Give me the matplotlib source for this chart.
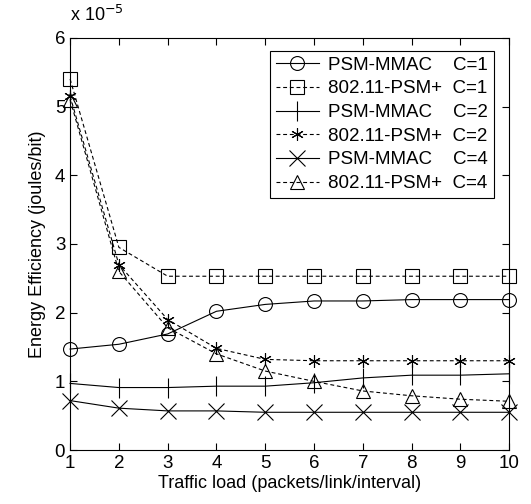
import matplotlib.pyplot as plt

plt.rcParams['font.family'] = ['Liberation Sans', 'DejaVu Sans']

load = [1, 2, 3, 4, 5, 6, 7, 8, 9, 10]
# energy efficiency, in units of 1e-5 joules/bit
mmac_c1 = [1.47, 1.54, 1.69, 2.02, 2.12, 2.17, 2.17, 2.19, 2.19, 2.19]
psm_c1 = [5.40, 2.95, 2.53, 2.53, 2.53, 2.53, 2.53, 2.53, 2.53, 2.53]
mmac_c2 = [0.97, 0.91, 0.91, 0.93, 0.93, 0.98, 1.05, 1.09, 1.09, 1.11]
psm_c2 = [5.15, 2.70, 1.90, 1.48, 1.32, 1.30, 1.30, 1.30, 1.30, 1.30]
mmac_c4 = [0.72, 0.61, 0.57, 0.57, 0.55, 0.55, 0.55, 0.55, 0.55, 0.55]
psm_c4 = [5.10, 2.60, 1.78, 1.40, 1.15, 1.00, 0.86, 0.79, 0.74, 0.71]

labels = ['PSM-MMAC    C=1', '802.11-PSM+  C=1', 'PSM-MMAC    C=2',
          '802.11-PSM+  C=2', 'PSM-MMAC    C=4', '802.11-PSM+  C=4']

fig = plt.figure(figsize=(5.31, 5.04), dpi=100)
ax = fig.add_axes([0.132, 0.107, 0.827, 0.818])

kw = dict(color='black', linewidth=0.8, markersize=10, markerfacecolor='none',
          markeredgewidth=0.8, clip_on=False)
dash = (0, (3.5, 2.5))
ax.plot(load, mmac_c1, '-', marker='o', label=labels[0], **kw)
ax.plot(load, psm_c1, linestyle=dash, marker='s', label=labels[1], **kw)
ax.plot(load, mmac_c2, '-', marker='|', label=labels[2], **dict(kw, markersize=14))
ax.plot(load, psm_c2, linestyle=dash, marker=(6, 2, 0), label=labels[3], **dict(kw, markersize=9))
ax.plot(load, mmac_c4, '-', marker='x', label=labels[4], **dict(kw, markersize=11))
ax.plot(load, psm_c4, linestyle=dash, marker='^', label=labels[5], **kw)

ax.set_xlim(1, 10)
ax.set_ylim(0, 6)
ax.set_xticks(load)
ax.set_yticks([0, 1, 2, 3, 4, 5, 6])
ax.tick_params(direction='in', top=True, right=True, labelsize=13.5, length=5)
for s in ax.spines.values():
    s.set_linewidth(0.8)

ax.set_xlabel('Traffic load (packets/link/interval)', fontsize=13, labelpad=2)
ax.set_ylabel('Energy Efficiency (joules/bit)', fontsize=13, labelpad=6)
ax.text(0.0, 1.03, 'x 10$^{-5}$', transform=ax.transAxes, fontsize=13,
        va='bottom', ha='left')

leg = ax.legend(loc='upper right', bbox_to_anchor=(0.965, 0.968), fontsize=13.5,
                fancybox=False, edgecolor='black', framealpha=1,
                handlelength=2.3, borderpad=0.3, labelspacing=0.35,
                handletextpad=0.5, borderaxespad=0)
leg.get_frame().set_linewidth(0.8)

plt.savefig('out.png')
